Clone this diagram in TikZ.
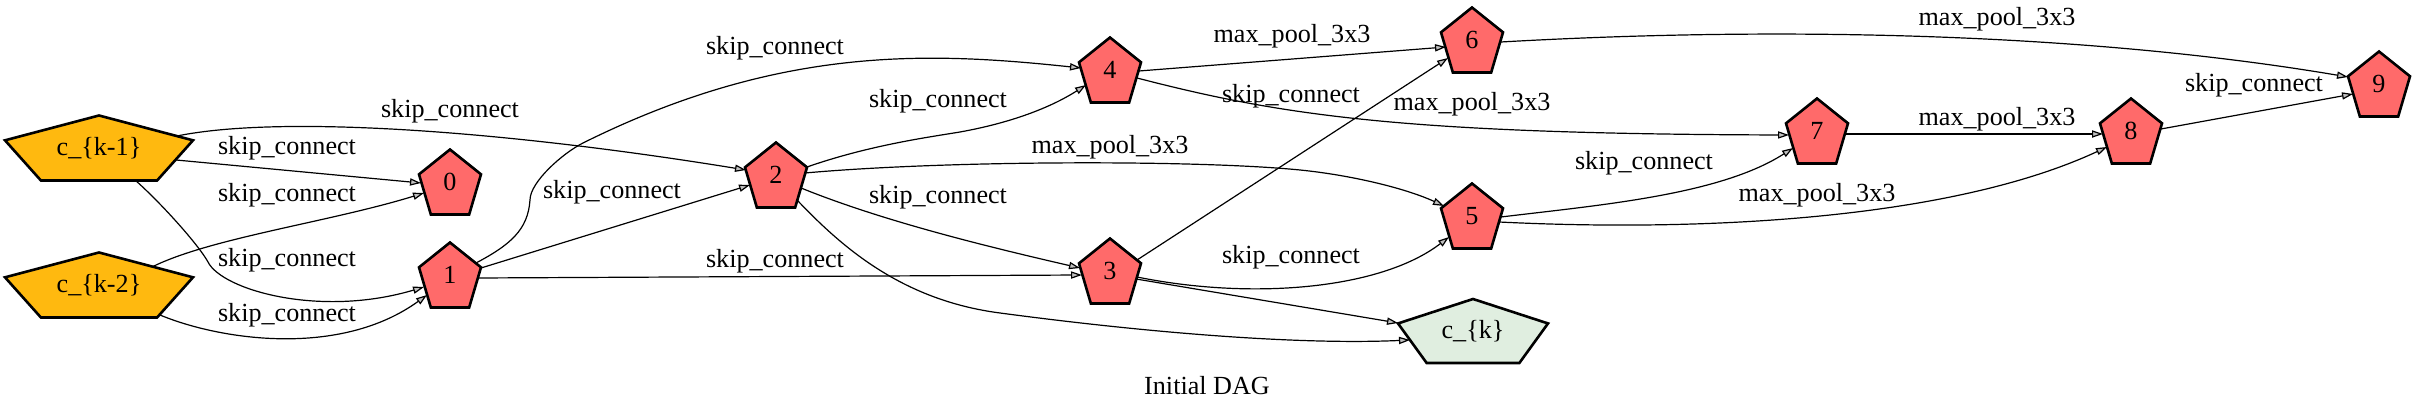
\documentclass[tikz,border=0pt]{standalone}
\usepackage{fontspec}
\setmainfont{Liberation Serif}
\usetikzlibrary{arrows.meta}
\definecolor{nred}{HTML}{FF6A6A}
\definecolor{nyel}{HTML}{FFB90F}
\definecolor{ngrn}{HTML}{E0EEE0}
\pgfdeclarelayer{bg}
\pgfsetlayers{bg,main}
% #1 name, #2 cx, #3 cy, #4 half width, #5 height, #6 fill, #7 text
\newcommand{\pentnode}[7]{%
  \filldraw[pentline, fill=#6] ({#2},{#3-#5/2}) -- ({#2+#4},{#3-#5/2+0.382*#5})
    -- ({#2+0.618*#4},{#3+#5/2}) -- ({#2-0.618*#4},{#3+#5/2})
    -- ({#2-#4},{#3-#5/2+0.382*#5}) -- cycle;
  \node[ntext] (#1) at (#2,#3) {#7};}
\begin{document}
\begin{tikzpicture}[x=0.5pt,y=-0.5pt,
  font=\fontsize{13.07}{15}\selectfont,
  edge/.style={line width=0.6pt, -{Triangle[length=5.5pt,width=3.6pt,fill=gray!50]}},
  lab/.style={anchor=base, inner sep=0pt},
  ntext/.style={inner sep=0pt},
  pentline/.style={line width=1.3pt, draw=black, line join=miter}]
\useasboundingbox (0,0) rectangle (2414,415);

\pentnode{ck1}{99}{148}{94}{65}{nyel}{c\_\{k-1\}}
\pentnode{ck2}{99}{285}{94}{65}{nyel}{c\_\{k-2\}}
\pentnode{n0}{450}{182}{31}{65}{nred}{0}
\pentnode{n1}{450}{275}{31}{65}{nred}{1}
\pentnode{n2}{776}{175}{31}{65}{nred}{2}
\pentnode{n3}{1110}{271}{31}{65}{nred}{3}
\pentnode{n4}{1110}{70}{31}{65}{nred}{4}
\pentnode{n5}{1472}{216}{31}{65}{nred}{5}
\pentnode{n6}{1472}{40}{31}{65}{nred}{6}
\pentnode{n7}{1817}{131}{31}{65}{nred}{7}
\pentnode{n8}{2131}{131}{31}{65}{nred}{8}
\pentnode{n9}{2379}{84}{31}{65}{nred}{9}
\pentnode{ck}{1473}{331}{75}{64}{ngrn}{c\_\{k\}}

\begin{pgfonlayer}{bg}
\draw[edge] ([shift={(77,12)}]ck1.center) -- ([shift={(-29,1)}]n0.center);
\draw[edge] ([shift={(53,-18)}]ck2.center) .. controls (210,238) and (330,222) .. ([shift={(-26,11)}]n0.center);
\draw[edge] ([shift={(36,32)}]ck1.center) .. controls (160,202) and (198,244) .. (208,262)
  .. controls (222,290) and (320,318) .. ([shift={(-26,12)}]n1.center);
\draw[edge] ([shift={(61,30)}]ck2.center) .. controls (220,340) and (340,358) .. ([shift={(-23,20)}]n1.center);
\draw[edge] ([shift={(78,-12)}]ck1.center) .. controls (280,115) and (500,130) .. ([shift={(-30,-5)}]n2.center);
\draw[edge] ([shift={(31,-7)}]n1.center) -- ([shift={(-26,10)}]n2.center);
\draw[edge] ([shift={(26,-12)}]n1.center) .. controls (510,245) and (528,230) .. (530,200)
  .. controls (530,182) and (563,153) .. (583,143)
  .. controls (780,45) and (930,52) .. ([shift={(-29,-2)}]n4.center);
\draw[edge] ([shift={(29,3)}]n1.center) -- ([shift={(-28,4)}]n3.center);
\draw[edge] ([shift={(31,-8)}]n2.center) .. controls (870,145) and (930,137) .. (960,132)
  .. controls (1010,123) and (1050,108) .. ([shift={(-24,15)}]n4.center);
\draw[edge] ([shift={(29,-2)}]n2.center) .. controls (950,160) and (1200,160) .. (1300,170)
  .. controls (1350,175) and (1405,188) .. ([shift={(-28,-10)}]n5.center);
\draw[edge] ([shift={(25,13)}]n2.center) .. controls (880,220) and (980,245) .. ([shift={(-30,-3)}]n3.center);
\draw[edge] ([shift={(21,25)}]n2.center) .. controls (840,245) and (900,300) .. (1000,313)
  .. controls (1150,333) and (1300,345) .. ([shift={(-63,9)}]ck.center);
\draw[edge] ([shift={(26,8)}]n3.center) -- ([shift={(-75,-8)}]ck.center);
\draw[edge] ([shift={(27,6)}]n3.center) .. controls (1250,300) and (1380,290) .. ([shift={(-23,21)}]n5.center);
\draw[edge] ([shift={(27,-11)}]n3.center) -- ([shift={(-24,18)}]n6.center);
\draw[edge] ([shift={(29,1)}]n4.center) -- ([shift={(-26,7)}]n6.center);
\draw[edge] ([shift={(27,8)}]n4.center) .. controls (1280,115) and (1400,134) .. ([shift={(-28,4)}]n7.center);
\draw[edge] ([shift={(29,1)}]n5.center) .. controls (1600,205) and (1720,195) .. ([shift={(-24,17)}]n7.center);
\draw[edge] ([shift={(27,6)}]n5.center) .. controls (1700,232) and (1950,220) .. ([shift={(-24,16)}]n8.center);
\draw[edge] ([shift={(29,3)}]n7.center) -- ([shift={(-28,3)}]n8.center);
\draw[edge] ([shift={(29,2)}]n6.center) .. controls (1800,25) and (2100,35) .. ([shift={(-31,-7)}]n9.center);
\draw[edge] ([shift={(30,-2)}]n8.center) -- ([shift={(-26,10)}]n9.center);
\end{pgfonlayer}

\node[lab] (l1) at (287,155) {skip\_connect};
\node[lab] (l2) at (287,202) {skip\_connect};
\node[lab] (l3) at (287,267) {skip\_connect};
\node[lab] (l4) at (287,322) {skip\_connect};
\node[lab] (l5) at (450,118) {skip\_connect};
\node[lab] (l6) at (612,199) {skip\_connect};
\node[lab] (l7) at (775,55) {skip\_connect};
\node[lab] (l8) at (938,108) {skip\_connect};
\node[lab] (l9) at (1110,154) {max\_pool\_3x3};
\node[lab] (l10) at (938,204) {skip\_connect};
\node[lab] (l11) at (775,268) {skip\_connect};
\node[lab] (l12) at (1292,43) {max\_pool\_3x3};
\node[lab] (l13) at (1291,103) {skip\_connect};
\node[lab] (l14) at (1472,111) {max\_pool\_3x3};
\node[lab] (l15) at (1291,264) {skip\_connect};
\node[lab] (l16) at (1644,170) {skip\_connect};
\node[lab] (l17) at (1817,202) {max\_pool\_3x3};
\node[lab] (l18) at (1997,126) {max\_pool\_3x3};
\node[lab] (l19) at (1997,26) {max\_pool\_3x3};
\node[lab] (l20) at (2254,92) {skip\_connect};
\node[lab] (title) at (1207,395) {Initial DAG};
\end{tikzpicture}
\end{document}
